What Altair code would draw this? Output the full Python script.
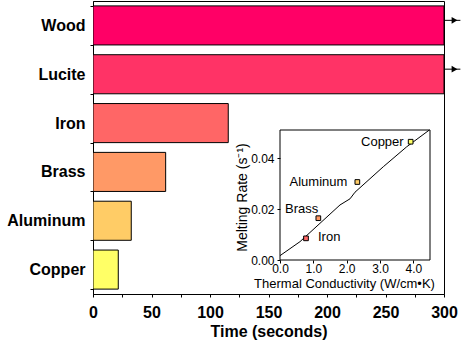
import altair as alt
import pandas as pd

FONT = "Liberation Sans"
NARROW = "Liberation Sans Narrow, Arial Narrow, Liberation Sans"

# ---- main bar chart data ----
materials = ["Wood", "Lucite", "Iron", "Brass", "Aluminum", "Copper"]
melt_time = [300, 300, 115.6, 62.1, 32.7, 21.6]
bar_colors = ["#FF0066", "#FF3366", "#FF6666", "#FF9966", "#FFCC66", "#FFFF66"]
off_scale = ["Wood", "Lucite"]          # bars that run past the axis end
time_ticks = [0, 25, 50, 75, 100, 125, 150, 175, 200, 225, 250, 275, 300]

# ---- inset data ----
inset_materials = ["Iron", "Brass", "Aluminum", "Copper"]
conductivity = [0.78, 1.15, 2.32, 3.92]
melt_rate = [0.0085, 0.0164, 0.0306, 0.0464]
fit_k = [0.0, 0.6, 1.8, 2.1, 2.25, 3.1, 3.8, 4.48]
fit_rate = [0.0017, 0.0072, 0.0216, 0.0240, 0.0266, 0.0366, 0.0444, 0.051]
k_ticks = [0, 1, 2, 3, 4]
rate_ticks = [0, 0.02, 0.04]
k_domain = [0, 4.5]
rate_domain = [0, 0.051]

main_df = pd.DataFrame({"material": materials, "time": melt_time})
arrow_df = pd.DataFrame({"material": off_scale})
inset_df = pd.DataFrame({"material": inset_materials, "k": conductivity, "rate": melt_rate})
fit_df = pd.DataFrame({"k": fit_k, "rate": fit_rate})

W, H = 351, 293

color = alt.Color("material:N", scale=alt.Scale(domain=materials, range=bar_colors), legend=None)

x_scale = alt.Scale(domain=[0, 300], nice=False, zero=True)
x_axis = alt.Axis(
    title="Time (seconds)", values=time_ticks,
    labelExpr="datum.value % 50 == 0 ? datum.label : ''",
    grid=False, tickSize=3, labelPadding=7, titlePadding=3, labelFlush=False,
    labelFontSize=16, labelFontWeight="bold", titleFontSize=16, titleFontWeight="bold",
)
y_sort = materials
y_scale = alt.Scale(paddingInner=0.2, paddingOuter=0.1)
y_axis = alt.Axis(title=None, tickBand="extent", tickSize=3, labelPadding=5,
                  labelFontSize=16, labelFontWeight="bold")

bars = alt.Chart(main_df).mark_bar(stroke="black", strokeWidth=1, clip=True).encode(
    x=alt.X("time:Q", scale=x_scale, axis=x_axis),
    y=alt.Y("material:N", sort=y_sort, scale=y_scale, axis=y_axis),
    color=color,
)

arrow_line = alt.Chart(arrow_df).mark_rule(color="black", strokeWidth=1, clip=False).encode(
    x=alt.XDatum(300, type="quantitative", scale=x_scale, axis=x_axis),
    x2=alt.X2Datum(314),
    y=alt.Y("material:N", sort=y_sort, scale=y_scale, axis=y_axis, bandPosition=0.37),
)
arrow_head = alt.Chart(arrow_df).mark_point(
    shape="triangle-right", filled=True, color="black", opacity=1, size=45, clip=False
).encode(
    x=alt.XDatum(309, type="quantitative", scale=x_scale, axis=x_axis),
    y=alt.Y("material:N", sort=y_sort, scale=y_scale, axis=y_axis, bandPosition=0.37),
)

main = alt.layer(bars, arrow_line, arrow_head)

# ---- inset ----
xi_scale = alt.Scale(domain=k_domain, range=[187, 337], nice=False, zero=False)
yi_scale = alt.Scale(domain=rate_domain, range=[259, 129], nice=False, zero=False)
xi_axis = alt.Axis(
    orient="bottom", offset=-34, values=k_ticks, format=".1f", grid=False,
    tickSize=3, labelPadding=0, labelFontSize=12, labelFont=NARROW, labelFontWeight="normal",
    labelFlush=False,
    title="Thermal Conductivity (W/cm\u2022K)", titleFontSize=13, titleFontWeight="normal",
    titleX=251, titleY=23, titleBaseline="middle", titleAlign="center",
    domain=False, zindex=1,
)
yi_axis = alt.Axis(
    orient="left", offset=-187, values=rate_ticks, format=".2f", grid=False,
    tickSize=3, labelPadding=3, labelFontSize=12, labelFont=NARROW, labelFontWeight="normal",
    labelFlush=False,
    title="Melting Rate (s\u207b\u00b9)", titleFontSize=14, titleFontWeight="normal",
    titleX=-38, titleY=196, titleBaseline="middle", titleAlign="center", titleAngle=270,
    domain=False, zindex=1,
)

frame = alt.Chart(pd.DataFrame({"a": [0]})).mark_rect(
    fill="white", stroke="black", strokeWidth=1
).encode(
    x=alt.XDatum(k_domain[0], type="quantitative", scale=xi_scale, axis=xi_axis),
    x2=alt.X2Datum(k_domain[1]),
    y=alt.YDatum(rate_domain[0], type="quantitative", scale=yi_scale, axis=yi_axis),
    y2=alt.Y2Datum(rate_domain[1]),
)

xi = alt.X("k:Q", scale=xi_scale, axis=xi_axis)
yi = alt.Y("rate:Q", scale=yi_scale, axis=yi_axis)

fit_line = alt.Chart(fit_df).mark_line(color="black", strokeWidth=1).encode(
    x=xi, y=yi, order=alt.Order("k:Q"),
)

pts = alt.Chart(inset_df).mark_point(
    shape="square", filled=True, stroke="black", strokeWidth=1, opacity=1, size=22
).encode(
    x=xi, y=yi,
    fill=alt.Fill("material:N", scale=alt.Scale(domain=materials, range=bar_colors), legend=None),
)

label_style = {
    "Iron": dict(align="left", dx=12, dy=-1),
    "Brass": dict(align="right", dx=0, dy=-9),
    "Aluminum": dict(align="right", dx=-10, dy=0),
    "Copper": dict(align="right", dx=-7, dy=0),
}
label_layers = []
for m, st in label_style.items():
    label_layers.append(
        alt.Chart(inset_df).transform_filter(alt.datum.material == m).mark_text(
            font=FONT, fontSize=13, color="black", baseline="middle", **st
        ).encode(x=xi, y=yi, text="material:N")
    )

inset = alt.layer(frame, fit_line, pts, *label_layers)

chart = alt.layer(main, inset).resolve_scale(
    x="independent", y="independent", fill="independent"
).properties(
    width=W, height=H,
    autosize=alt.AutoSizeParams(type="none"),
    padding={"left": 93, "top": 1, "right": 23, "bottom": 54},
    background="white",
).configure_view(
    stroke="black", strokeWidth=1
).configure_axis(
    labelFont=FONT, titleFont=FONT, labelColor="black", titleColor="black",
    domainColor="black", tickColor="black", domainWidth=1, tickWidth=1,
)

chart.save("out.html", embed_options={"renderer": "svg", "actions": False})
